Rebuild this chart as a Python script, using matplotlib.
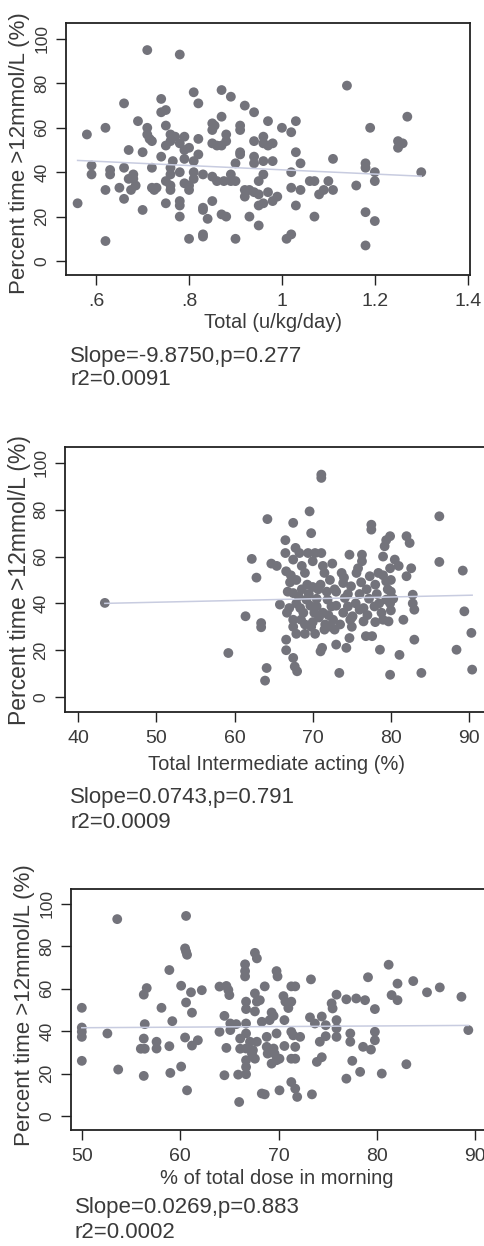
import matplotlib
matplotlib.use('Agg')
import matplotlib.pyplot as plt

plt.rcParams['font.family'] = ['Liberation Sans', 'DejaVu Sans']

# panel 1: total insulin dose (u/kg/day)
x1 = [0.56, 0.58, 0.59, 0.59, 0.62, 0.62, 0.62, 0.63, 0.63, 0.65,
      0.66, 0.66, 0.66, 0.67, 0.67, 0.675, 0.68, 0.685, 0.68, 0.69,
      0.70, 0.70, 0.71, 0.71, 0.71, 0.715, 0.72, 0.72, 0.72, 0.725,
      0.73, 0.74, 0.74, 0.74, 0.75, 0.75, 0.75, 0.75, 0.75, 0.76,
      0.76, 0.765, 0.76, 0.76, 0.76, 0.76, 0.77, 0.78, 0.78, 0.78,
      0.78, 0.78, 0.78, 0.79, 0.79, 0.79, 0.79, 0.80, 0.80, 0.80,
      0.80, 0.81, 0.81, 0.81, 0.81, 0.82, 0.82, 0.82, 0.83, 0.83,
      0.83, 0.83, 0.83, 0.84, 0.85, 0.85, 0.85, 0.85, 0.855, 0.85,
      0.86, 0.86, 0.87, 0.87, 0.87, 0.87, 0.88, 0.88, 0.88, 0.875,
      0.89, 0.89, 0.89, 0.90, 0.90, 0.90, 0.91, 0.91, 0.91, 0.91,
      0.92, 0.92, 0.92, 0.93, 0.93, 0.94, 0.94, 0.94, 0.94, 0.94,
      0.95, 0.95, 0.95, 0.95, 0.96, 0.96, 0.96, 0.96, 0.96, 0.97,
      0.97, 0.97, 0.98, 0.98, 0.98, 0.99, 1.00, 1.01, 1.02, 1.02,
      1.02, 1.02, 1.03, 1.03, 1.03, 1.04, 1.04, 1.06, 1.07, 1.07,
      1.08, 1.09, 1.10, 1.11, 1.11, 1.14, 1.16, 1.18, 1.18, 1.18,
      1.18, 1.19, 1.20, 1.20, 1.20, 1.25, 1.25, 1.26, 1.27, 1.30]
y1 = [26, 57, 43, 39, 60, 32, 9, 41, 39, 33,
      71, 42, 28, 50, 37, 32, 39, 34, 37, 63,
      49, 23, 95, 60, 57, 55, 54, 42, 33, 32,
      33, 73, 67, 47, 68, 61, 52, 36, 26, 57,
      54, 45, 42, 39, 34, 32, 56, 93, 53, 40,
      27, 25, 20, 56, 50, 46, 35, 51, 34, 32,
      10, 76, 45, 40, 37, 71, 55, 48, 39, 24,
      23, 12, 11, 19, 27, 38, 62, 59, 61, 53,
      52, 36, 77, 65, 52, 21, 20, 57, 54, 36,
      74, 39, 36, 36, 10, 44, 61, 59, 49, 48,
      70, 32, 29, 20, 32, 67, 54, 47, 44, 31,
      16, 25, 36, 30, 56, 53, 45, 39, 26, 63,
      52, 31, 53, 45, 27, 29, 60, 10, 12, 58,
      40, 33, 63, 49, 25, 44, 32, 36, 36, 20,
      30, 32, 36, 32, 46, 79, 34, 44, 42, 22,
      7, 60, 40, 36, 18, 54, 51, 53, 65, 40]
fit1_x = [0.56, 1.30]
fit1_y = [45.3, 38.2]

# panel 2: total intermediate acting (%)
x2 = [43.4, 59.2, 61.4, 62.2, 62.8, 63.4, 63.4, 63.9, 64.1, 64.2,
      64.7, 65.4, 65.8, 66.5, 66.5, 66.6, 66.6, 66.6, 66.7, 67.1,
      67.5, 67.5, 67.5, 67.5, 67.5, 67.7, 68.0, 67.8, 67.9, 67.9,
      67.9, 68.3, 68.6, 68.8, 69.0, 69.2, 69.4, 69.6, 69.8, 69.8,
      70.0, 70.3, 70.3, 70.5, 70.7, 71.1, 71.1, 71.0, 71.2, 71.1,
      71.3, 71.5, 71.3, 71.5, 71.9, 72.2, 72.4, 72.8, 72.6, 73.0,
      73.4, 73.7, 73.9, 73.9, 74.1, 74.3, 74.5, 74.7, 74.7, 74.9,
      75.1, 75.6, 76.0, 76.3, 76.3, 76.5, 76.8, 76.9, 77.3, 77.5,
      77.5, 77.6, 77.9, 78.4, 78.6, 78.8, 79.0, 79.2, 79.4, 79.4,
      79.4, 79.7, 79.9, 79.9, 79.9, 79.9, 80.5, 81.1, 81.6, 82.0,
      82.4, 82.0, 82.6, 82.8, 82.8, 83.0, 83.0, 83.9, 86.2, 86.2,
      88.4, 89.2, 89.4, 90.3, 90.4,
      68.5, 69.0, 70.0, 70.8, 72.0, 73.0, 74.5, 75.5, 76.0, 77.0,
      78.0, 78.5, 79.0, 80.0, 80.0, 75.0, 76.5, 69.5, 68.2, 67.0,
      73.0, 71.0, 72.5, 70.0, 78.0, 79.0, 80.0, 74.0, 75.0, 69.0,
      67.5, 81.0,
      66.8, 67.2, 68.6, 69.3, 70.5, 71.8, 72.8, 73.5, 74.8, 76.2,
      77.2, 78.2, 79.6, 80.3, 71.6, 70.2, 69.7, 72.3, 68.4, 75.8]
y2 = [40.2, 18.8, 34.5, 59, 51, 31.6, 29.8, 7, 12.4, 76,
      57, 56, 39.5, 67, 61.5, 53.7, 24.5, 20, 36, 49,
      74.4, 58.7, 44.4, 33, 16.7, 13, 11, 63.7, 50, 40,
      27, 61.5, 46, 36, 53, 41.6, 61.5, 79.3, 70, 30,
      47, 61.5, 27, 38.7, 46, 95, 93.6, 19.5, 21, 61.5,
      56, 53, 36, 28.8, 41.6, 50, 38.7, 28.8, 33, 22.4,
      10.3, 53, 48.7, 36, 42.3, 21, 38.7, 60.8, 25.2, 47.3,
      34.5, 53, 37.3, 60.8, 58, 32.3, 26, 46, 51.6, 73.6,
      71.5, 26, 38.7, 53, 20.2, 36, 60, 64.4, 67, 49.4,
      41.6, 32.3, 68.7, 55, 9.5, 40, 58.7, 18, 33, 68.7,
      65.8, 51.6, 55, 43.7, 40, 37.3, 24.5, 10.3, 77.2, 57.7,
      20.2, 54, 36.6, 27.4, 11.7,
      33, 31, 32, 34, 35, 39, 44, 40, 44, 35,
      32, 40, 33, 45, 37, 34, 38, 44, 43, 38,
      45, 48, 57, 58, 48, 52, 50, 51, 30, 27,
      30, 56,
      45, 52, 56, 48, 42, 45, 46, 31, 33, 49,
      42, 44, 46, 42, 31, 36, 39, 30, 38, 55]
fit2_x = [43.4, 90.4]
fit2_y = [40.0, 43.5]

# panel 3: % of total dose in morning
x3 = [50, 50, 50, 50, 50, 52.6, 53.6, 53.7, 56.3, 56.6,
      56.4, 56.3, 56.0, 56.4, 56.3, 57.6, 57.6, 58.1, 58.9, 58.9,
      59.0, 59.2, 60.1, 60.1, 60.5, 60.6, 60.6, 60.5, 60.6, 60.7,
      60.7, 61.1, 61.2, 61.2, 61.8, 62.2, 64.0, 64.0, 64.5, 64.7,
      64.9, 65.0, 64.7, 64.5, 65.1, 65.1, 65.7, 65.9, 66.0, 66.1,
      66.1, 66.6, 66.6, 66.6, 66.7, 66.7, 66.7, 66.7, 66.7, 66.7,
      66.7, 66.7, 67.1, 67.4, 67.3, 67.6, 67.8, 67.6, 67.8, 67.6,
      67.8, 67.6, 68.1, 68.3, 68.3, 68.6, 68.6, 68.8, 68.8, 68.9,
      69.1, 69.3, 69.3, 69.5, 69.6, 69.5, 69.8, 69.9, 69.8, 70.1,
      70.1, 69.8, 70.5, 70.7, 70.6, 70.6, 71.0, 71.3, 71.7, 71.3,
      71.3, 71.5, 71.3, 71.7, 71.3, 71.7, 71.7, 71.9, 72.2, 73.3,
      73.2, 73.4, 73.7, 73.9, 74.4, 74.2, 74.4, 74.8, 74.8, 75.4,
      75.5, 75.9, 75.9, 75.9, 75.9, 76.9, 76.9, 77.3, 77.3, 77.5,
      77.9, 78.3, 78.6, 78.8, 79.1, 79.4, 79.8, 79.8, 79.8, 80.5,
      81.2, 81.5, 82.1, 82.1, 83.0, 83.7, 85.1, 86.4, 88.6, 89.3]
y3 = [51, 41.7, 37.3, 39.7, 26, 38.9, 92.8, 21.9, 57.2, 60.3,
      43.3, 36.5, 31.7, 31.7, 18.9, 35, 31.8, 51, 68.8, 32.9,
      20.3, 44.7, 61.4, 23.3, 37, 53.5, 94.3, 79, 77.5, 76,
      12.1, 58.3, 48.7, 33.2, 35.7, 59.3, 61, 39.7, 47.2, 61.3,
      59.4, 57, 32.1, 19.2, 43.6, 40.5, 43.3, 19.5, 6.6, 36.5,
      31.7, 71.5, 68.3, 65.8, 53.9, 50.4, 43.6, 38.9, 31.8, 26.3,
      23.1, 19.7, 35, 31, 29.4, 76.9, 74.3, 57.8, 53.9, 49.3,
      35, 27, 54.6, 44.4, 10.6, 10.2, 61.1, 37.3, 32.6, 29.4,
      45.2, 48.8, 24.7, 31.8, 29.4, 47.2, 68.3, 65.8, 38.9, 12.1,
      27, 26.3, 56.5, 53.9, 45.2, 33, 50.9, 61.1, 61.1, 53.9,
      39.7, 38, 27, 27, 16, 32.6, 12.9, 9, 37.3, 64.4,
      46.5, 10.2, 43.6, 25.5, 27.7, 35, 46.9, 42.8, 37.6, 53.1,
      50.7, 57.2, 45.2, 41.3, 37.3, 55, 17.6, 38.9, 35, 26,
      55.4, 20.8, 32.6, 54.6, 65.4, 31.3, 50.4, 39.7, 35.7, 20,
      71.3, 57, 54.6, 62.4, 24.4, 63.6, 58.3, 60.6, 56.2, 40.5]
fit3_x = [50, 89.3]
fit3_y = [41.6, 42.7]

y_ticks = [0, 20, 40, 60, 80, 100]
ylabel = 'Percent time >12mmol/L (%)'

W, H = 484, 1246
fig = plt.figure(figsize=(W / 100, H / 100), dpi=100)
fig.patch.set_facecolor('white')

dot_color = '#73737b'
fit_color = '#c8cce0'
frame_color = '#222222'
text_color = '#3a3a3a'


def panel(box, xlim, ylim, xticks, xticklabels, xs, ys, fx, fy):
    left, top, right, bottom = box
    ax = fig.add_axes([left / W, 1 - bottom / H, (right - left) / W, (bottom - top) / H])
    ax.scatter(xs, ys, s=50, color=dot_color, edgecolors='none', zorder=3)
    ax.plot(fx, fy, color=fit_color, lw=1.1, zorder=4)
    ax.set_xlim(*xlim)
    ax.set_ylim(*ylim)
    ax.set_xticks(xticks)
    ax.set_xticklabels(xticklabels)
    ax.set_yticks(y_ticks)
    ax.set_yticklabels([str(t) for t in y_ticks], rotation=90, va='center')
    ax.tick_params(axis='x', direction='out', length=7, width=1, colors=frame_color,
                   labelsize=14, pad=6, labelcolor=text_color)
    ax.tick_params(axis='y', direction='out', length=7, width=1, colors=frame_color,
                   labelsize=12.5, pad=5, labelcolor=text_color)
    for sp in ax.spines.values():
        sp.set_color(frame_color)
        sp.set_linewidth(1.3)
    return ax


def ftext(x, y, s, **kw):
    fig.text(x / W, 1 - y / H, s, color=text_color, **kw)


# panel 1
panel((66, 23, 470, 275), (0.535, 1.405), (-6.3, 107.2),
      [0.6, 0.8, 1.0, 1.2, 1.4], ['.6', '.8', '1', '1.2', '1.4'],
      x1, y1, fit1_x, fit1_y)
ftext(20, 153, ylabel, rotation=90, ha='center', va='center', fontsize=16)
ftext(273, 323, 'Total (u/kg/day)', ha='center', va='center', fontsize=14.5)
ftext(70, 357, 'Slope=-9.8750,p=0.277', ha='left', va='center', fontsize=16)
ftext(70, 380, 'r2=0.0091', ha='left', va='center', fontsize=16)

# panel 2
panel((65, 447, 487, 712), (38.3, 92.3), (-6.4, 106.8),
      [40, 50, 60, 70, 80, 90], ['40', '50', '60', '70', '80', '90'],
      x2, y2, fit2_x, fit2_y)
ftext(20, 580, ylabel, rotation=90, ha='center', va='center', fontsize=16.5)
ftext(277, 765, 'Total Intermediate acting (%)', ha='center', va='center', fontsize=14.5)
ftext(70, 797, 'Slope=0.0743,p=0.791', ha='left', va='center', fontsize=16)
ftext(70, 822, 'r2=0.0009', ha='left', va='center', fontsize=16)

# panel 3
panel((71, 889, 487, 1130), (48.9, 91.2), (-6.6, 107.0),
      [50, 60, 70, 80, 90], ['50', '60', '70', '80', '90'],
      x3, y3, fit3_x, fit3_y)
ftext(25, 1005, ylabel, rotation=90, ha='center', va='center', fontsize=16)
ftext(277, 1179, '% of total dose in morning', ha='center', va='center', fontsize=14.5)
ftext(75, 1208, 'Slope=0.0269,p=0.883', ha='left', va='center', fontsize=16)
ftext(75, 1233, 'r2=0.0002', ha='left', va='center', fontsize=16)

fig.savefig('out.png', dpi=100, facecolor='white')
